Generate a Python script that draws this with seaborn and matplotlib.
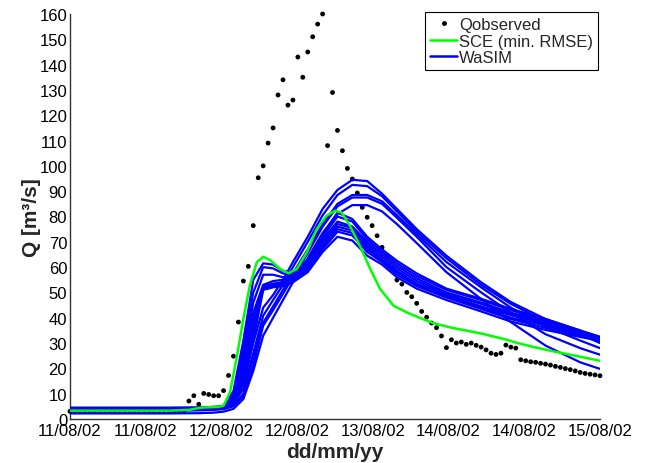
import numpy as np
import pandas as pd
import matplotlib
matplotlib.use("Agg")
import matplotlib.pyplot as plt
import seaborn as sns
from matplotlib.lines import Line2D

# ---------------- data ----------------
tick_labels = ["11/08/02", "11/08/02", "12/08/02", "12/08/02",
               "13/08/02", "14/08/02", "14/08/02", "15/08/02"]

# observed discharge, hourly from hour 0
q_observed = [3.0] * 21 + [3.0, 3.0, 3.2] + [
    7.1, 9.2, 5.8, 10.1, 9.7, 9.2, 9.2, 11.2, 17.2, 24.8, 38.3, 54.5, 60.3, 76.4,
    95.3, 100, 109, 115, 128, 134, 124, 126, 143, 135, 145, 151, 156, 160, 108,
    129, 114, 106, 99, 94.8, 89.3, 83.6, 79.7, 76.4, 72.4, 67.8, 64.1, 59.5, 54.9,
    53.3, 50, 48.3, 45.7, 42.5, 40.2, 37.9, 36.1, 32.8, 28.2, 31.3, 30, 30.4, 29.5,
    30, 29.1, 28.4, 27.3, 26, 25.5, 26, 29.2, 28.4, 28, 23.4, 23, 22.6, 22.4, 22,
    21.7, 21.3, 20.8, 20.4, 19.9, 19.5, 19, 18.4, 18, 17.7, 17.4, 17.1]

# SCE (min. RMSE) simulation read at these hours
sce_hours = [0, 20, 24, 26.5, 30, 31, 32.3, 33.6, 35, 36.3, 37.7, 39, 40.4, 42.4,
             44.1, 45.8, 47.8, 49.8, 51.8, 53.5, 54.8, 56.5, 58.5, 60.6, 62.6,
             65.3, 68, 70.3, 73.3, 76.7, 80.1, 83.4, 88.2, 89.8, 93.9, 97.9, 102, 107]
sce_q = [3.3, 3.3, 3.6, 4.5, 4.8, 5.3, 10.5, 23.7, 39.5, 52.7, 61.9, 64.1, 62.8, 59.3,
         57.6, 59.3, 65.8, 75, 80.3, 82.3, 81.6, 76.4, 68.5, 59.3, 51.4,
         44.8, 42.1, 40.2, 37.9, 36.2, 34.9, 33.6, 31.3, 30.3, 28.3, 26.6, 25, 23.0]

# WaSIM runs, read at these hours
wasim_hours = [0, 20, 26, 29, 31, 33, 35, 37, 39, 41, 43, 45, 48, 51, 54, 57, 60,
               63, 66, 70, 76, 83, 89, 96, 103, 107]
wasim_runs = {
    "B1": [4.5, 4.5, 4.6, 4.8, 5.2, 11, 31, 55, 61.5, 61, 58.5, 58, 63, 73, 81.5, 79, 72, 67, 62.5, 57.5, 51.5, 47.5, 43.5, 39.5, 35, 32.5],
    "B2": [4.3, 4.3, 4.4, 4.6, 5.0, 10, 28, 50, 60, 59.5, 57.5, 57, 62, 72, 80, 78, 71, 66, 61.5, 56.5, 51, 47, 43, 39, 34.8, 32.3],
    "B3": [4.1, 4.1, 4.2, 4.4, 4.8, 9, 25, 46, 57, 57, 56, 56.5, 61.5, 71, 78, 76, 70, 65, 60.5, 55.5, 50, 46, 42, 38.5, 34.3, 32],
    "B4": [4.0, 4.0, 4.1, 4.3, 4.6, 8, 22, 42, 53, 54.5, 55, 56, 61, 70, 77, 75.5, 69, 64, 59.5, 54.5, 49.5, 45.5, 41.5, 38, 34, 31.8],
    "B5": [3.9, 3.9, 4.0, 4.2, 4.5, 7.5, 20, 40, 52.5, 53.5, 54, 55.5, 60, 69, 76, 74.5, 68, 63, 58.5, 53.5, 49, 44.5, 41, 37.5, 33.6, 31.5],
    "B6": [3.8, 3.8, 3.9, 4.1, 4.4, 7, 18, 37, 52, 53, 53.5, 55, 59, 68, 75, 73.5, 67, 62.5, 58, 53, 48.5, 44, 40, 37, 33.2, 31.3],
    "B7": [3.7, 3.7, 3.8, 4.0, 4.3, 6.5, 16, 34, 51.5, 52.5, 53, 54.5, 58.5, 67, 74, 72.5, 66, 62, 57, 52.5, 48, 43.5, 39.5, 36, 33, 31.1],
    "B8": [3.6, 3.6, 3.7, 3.9, 4.2, 6, 14, 31, 51, 52, 52.5, 54, 58, 66, 72, 70.5, 64.5, 61, 56, 51.5, 47, 42.5, 38.5, 35.2, 32.4, 30.9],
    "A1": [4.0, 4.0, 4.1, 4.3, 4.6, 6.5, 14, 30, 44, 49, 55, 62, 72, 83, 90.5, 94.5, 94, 89, 83, 75, 64.5, 54, 46.2, 39.5, 34.9, 31],
    "A2": [3.8, 3.8, 3.9, 4.1, 4.4, 6, 12, 26, 40.8, 47, 53, 60, 70, 80.5, 88.5, 92.5, 92, 88, 82, 74, 63.5, 53, 45.5, 38.5, 33.5, 30],
    "A3": [3.5, 3.5, 3.6, 3.8, 4.1, 5.5, 10, 24, 38, 44.5, 51, 57.5, 67, 77, 85, 88.5, 88.5, 86, 80.5, 73, 62, 52, 44, 36.5, 31, 28],
    "A4": [3.3, 3.3, 3.4, 3.6, 3.9, 5, 9, 21, 36.9, 43, 49.5, 56, 65.5, 76, 84, 87.5, 87.5, 85, 79.5, 72, 60, 50, 42, 33.5, 28, 25.4],
    "A5": [2.2, 2.2, 2.3, 2.5, 2.9, 4, 7.9, 19, 32.9, 40, 47, 54, 63.5, 73.5, 81, 84.5, 84.5, 82, 77, 69.5, 58, 47.4, 38.3, 29, 22.4, 19.8],
}

# ---------------- tables ----------------
obs_df = pd.DataFrame({"hour": np.arange(len(q_observed)), "Q": q_observed})
sce_df = pd.DataFrame({"hour": sce_hours, "Q": sce_q})
wasim_df = pd.concat(
    [pd.DataFrame({"hour": wasim_hours, "Q": v, "run": k}) for k, v in wasim_runs.items()],
    ignore_index=True)

# ---------------- figure ----------------
sns.set_style("white")
plt.rcParams["font.family"] = ["Liberation Sans", "DejaVu Sans"]

fig = plt.figure(figsize=(6.48, 4.64), dpi=100)
ax = fig.add_axes([70 / 648, 1 - 420 / 464, 530 / 648, 405 / 464])

sns.scatterplot(data=obs_df, x="hour", y="Q", ax=ax, color="black", s=12,
                edgecolor="none", zorder=2, clip_on=False, legend=False)
sns.lineplot(data=wasim_df, x="hour", y="Q", units="run", estimator=None, ax=ax,
             color="#0000ff", linewidth=1.6, zorder=3, legend=False)
sns.lineplot(data=sce_df, x="hour", y="Q", ax=ax, color="#00ff00",
             linewidth=1.8, zorder=4, legend=False)

xmax = 107
ax.set_xlim(0, xmax)
ax.set_ylim(0, 160)
ax.set_xticks(np.linspace(0, xmax, len(tick_labels)))
ax.set_xticklabels(tick_labels)
ax.set_yticks(np.arange(0, 161, 10))

for side in ["top", "right"]:
    ax.spines[side].set_visible(False)
for side in ["left", "bottom"]:
    ax.spines[side].set_color("#333333")
    ax.spines[side].set_linewidth(1.0)

ax.tick_params(direction="in", length=4, width=0.8, labelsize=12,
               colors="#333333", labelcolor="black", pad=2)
ax.tick_params(axis="x", pad=3)
ax.set_xlabel("dd/mm/yy", fontsize=15, fontweight="bold", labelpad=3)
ax.set_ylabel("Q [m³/s]", fontsize=15, fontweight="bold", labelpad=-1)

handles = [
    Line2D([], [], linestyle="none", marker="o", markersize=2.5, color="black"),
    Line2D([], [], color="#00ff00", linewidth=1.8),
    Line2D([], [], color="#0000ff", linewidth=1.8),
]
leg = ax.legend(handles, ["Qobserved", "SCE (min. RMSE)", "WaSIM"],
                loc="upper right", bbox_to_anchor=(0.997, 1.005), borderaxespad=0,
                fontsize=12, frameon=True, fancybox=False, framealpha=1,
                edgecolor="black", handlelength=1.6, handletextpad=0.15,
                borderpad=0.3, labelspacing=0.1)
leg.get_frame().set_linewidth(0.8)

fig.savefig("out.png", dpi=100)
